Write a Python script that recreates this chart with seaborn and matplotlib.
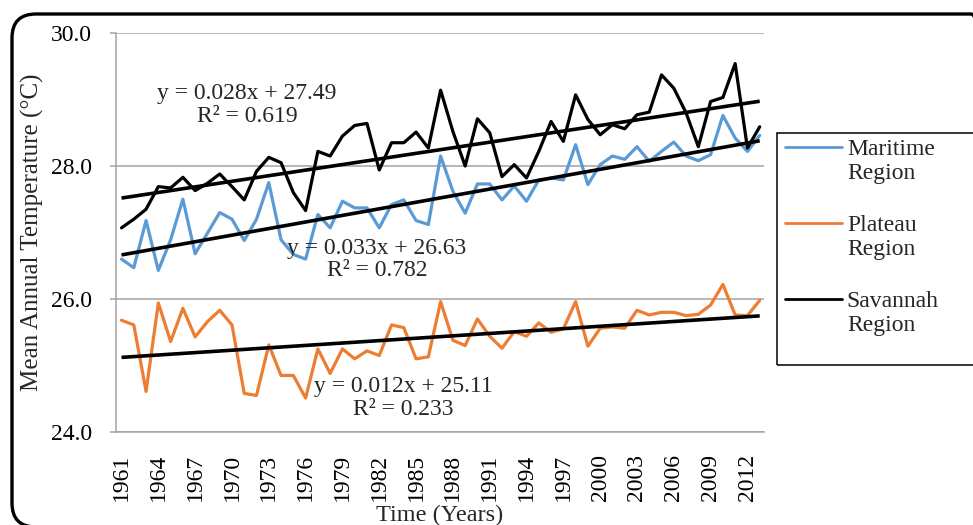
import numpy as np
import pandas as pd
import matplotlib
matplotlib.use("Agg")
import matplotlib.pyplot as plt
import seaborn as sns
from matplotlib.patches import FancyBboxPatch, Rectangle
from matplotlib.legend_handler import HandlerLine2D

# ---------------- data ----------------
years = list(range(1961, 2014))
maritime = [26.60, 26.47, 27.18, 26.43, 26.89, 27.50, 26.68, 26.99, 27.30, 27.20,
            26.88, 27.20, 27.75, 26.89, 26.67, 26.60, 27.27, 27.07, 27.47, 27.37,
            27.37, 27.07, 27.42, 27.49, 27.18, 27.12, 28.15, 27.62, 27.29, 27.73,
            27.73, 27.49, 27.70, 27.47, 27.79, 27.82, 27.79, 28.32, 27.72, 28.02,
            28.15, 28.10, 28.29, 28.07, 28.22, 28.36, 28.15, 28.08, 28.17, 28.76,
            28.42, 28.22, 28.46]
plateau = [25.68, 25.61, 24.61, 25.94, 25.36, 25.86, 25.43, 25.66, 25.83, 25.61,
           24.58, 24.55, 25.31, 24.85, 24.85, 24.51, 25.25, 24.88, 25.25, 25.10,
           25.22, 25.15, 25.61, 25.57, 25.10, 25.13, 25.96, 25.38, 25.30, 25.70,
           25.44, 25.26, 25.51, 25.44, 25.64, 25.50, 25.55, 25.96, 25.29, 25.56,
           25.58, 25.56, 25.83, 25.76, 25.80, 25.80, 25.75, 25.77, 25.91, 26.22,
           25.76, 25.75, 25.98]
savannah = [27.07, 27.20, 27.35, 27.69, 27.67, 27.83, 27.63, 27.74, 27.88, 27.69,
            27.49, 27.92, 28.13, 28.05, 27.60, 27.33, 28.22, 28.15, 28.45, 28.61,
            28.64, 27.94, 28.35, 28.35, 28.51, 28.27, 29.14, 28.52, 28.00, 28.71,
            28.50, 27.84, 28.02, 27.82, 28.22, 28.67, 28.37, 29.07, 28.70, 28.47,
            28.62, 28.56, 28.77, 28.81, 29.37, 29.17, 28.80, 28.29, 28.97, 29.03,
            29.54, 28.27, 28.59]
series_names = ["Maritime\nRegion", "Plateau\nRegion", "Savannah\nRegion"]
trend_slopes = [0.033, 0.012, 0.028]
trend_intercepts = [26.63, 25.11, 27.49]
r_squared = [0.782, 0.233, 0.619]
y_ticks = [24.0, 26.0, 28.0, 30.0]
x_ticks = list(range(1961, 2013, 3))

# ---------------- style ----------------
sns.set_style("white")
plt.rcParams['font.family'] = ['Liberation Serif', 'DejaVu Serif']
FS = 17
W, H = 973, 525

fig = plt.figure(figsize=(W / 100, H / 100), dpi=100)
ax = fig.add_axes([116 / W, 1 - 432 / H, (764 - 116) / W, (432 - 33) / H])

colors = ['#5B9BD5', '#ED7D31', '#000000']
all_series = [maritime, plateau, savannah]

df = pd.DataFrame({"Year": years})
for name, vals in zip(series_names, all_series):
    df[name] = vals

series_handles = []
for name, col in zip(series_names, colors):
    sns.lineplot(data=df, x="Year", y=name, color=col, lw=2.3, ax=ax,
                 label=name, solid_joinstyle='round', solid_capstyle='round')
    series_handles.append(ax.lines[-1])

# trend lines from the fitted equations (x = 1..N)
t = np.arange(1, len(years) + 1)
for s, b in zip(trend_slopes, trend_intercepts):
    sns.lineplot(x=years, y=s * t + b, color='black', lw=2.6, ax=ax,
                 solid_capstyle='butt')

if ax.get_legend() is not None:
    ax.get_legend().remove()

# axes
ax.set_xlim(1960.55, 2013.35)
ax.set_ylim(24.0, 30.0)
ax.set_yticks(y_ticks)
ax.set_yticklabels([f"{v:.1f}" for v in y_ticks])
ax.set_xticks(x_ticks)
ax.set_xticklabels([str(v) for v in x_ticks])
grid_col = '#a3a3a3'
ax.yaxis.grid(True, color=grid_col, lw=1.1)
ax.xaxis.grid(False)
ax.set_axisbelow(True)
for sp in ['top', 'right']:
    ax.spines[sp].set_visible(False)
for sp in ['left', 'bottom']:
    ax.spines[sp].set_color(grid_col)
    ax.spines[sp].set_linewidth(1.1)
ax.tick_params(axis='y', left=True, length=4.3, width=1.1, color=grid_col,
               pad=13, labelsize=FS, labelcolor='black')
ax.tick_params(axis='x', bottom=False, length=0, pad=16, labelsize=FS,
               labelrotation=90, labelcolor='black')

ax.set_ylabel("Mean Annual Temperature (°C)", fontsize=18)
ax.yaxis.label.set_va('center')
ax.yaxis.set_label_coords((32 - 116) / 648, 0.5)
ax.set_xlabel("Time (Years)", fontsize=FS + 0.5)
ax.xaxis.label.set_va('center')
ax.xaxis.set_label_coords(0.5, -(515 - 432) / 399)

# trendline equations
label_pos = [(377, 259.5), (403, 398), (247, 105)]
for s, b, r, (px, py) in zip(trend_slopes, trend_intercepts, r_squared, label_pos):
    fig.text(px / W, 1 - py / H, f"y = {s:.3f}x + {b:.2f}\nR² = {r:.3f}",
             ha='center', va='center', multialignment='center',
             fontsize=FS, linespacing=1.1)


# legend
class TopLineHandler(HandlerLine2D):
    def __init__(self, dy, **kw):
        super().__init__(**kw)
        self.dy = dy

    def create_artists(self, legend, orig_handle, xdescent, ydescent, width,
                       height, fontsize, trans):
        arts = super().create_artists(legend, orig_handle, xdescent, ydescent,
                                      width, height, fontsize, trans)
        for a in arts:
            a.set_ydata(np.asarray(a.get_ydata()) + self.dy)
            a.set_linewidth(2.0)
        return arts


handler = TopLineHandler(dy=10.5)
fig.legend(series_handles, series_names, loc='upper left',
           bbox_to_anchor=(785 / W, 1 - 139 / H), frameon=False,
           borderpad=0, borderaxespad=0, handlelength=2.4, handletextpad=0.22,
           labelspacing=1.3, fontsize=FS,
           handler_map={h: handler for h in series_handles})
fig.add_artist(Rectangle((777 / W, 1 - 365 / H), (995 - 777) / W, (365 - 133) / H,
                         transform=fig.transFigure, fill=False, ec='black',
                         lw=1.1, clip_on=False))

# rounded outer border
fig.add_artist(FancyBboxPatch((12 / 100, (H - 527) / 100), (995 - 12) / 100,
                              (527 - 14) / 100,
                              boxstyle="round,pad=0,rounding_size=0.24",
                              transform=fig.dpi_scale_trans, fill=False,
                              ec='black', lw=2.4, clip_on=False))

fig.savefig("out.png", dpi=100)
